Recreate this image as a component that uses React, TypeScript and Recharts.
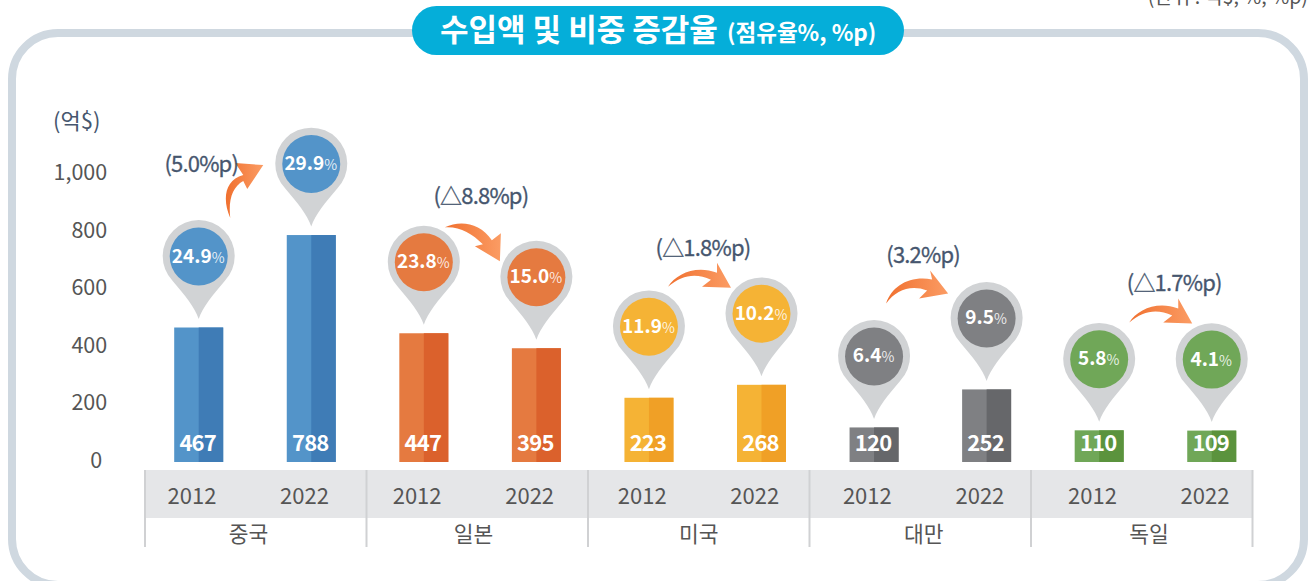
import { Bar, BarChart, LabelList, XAxis, YAxis } from 'recharts';

const countries = ['중국', '일본', '미국', '대만', '독일'];
const years = ['2012', '2022'];
const imports = [467, 788, 447, 395, 223, 268, 120, 252, 110, 109];
const shares = ['24.9', '29.9', '23.8', '15.0', '11.9', '10.2', '6.4', '9.5', '5.8', '4.1'];
const changes = ['(5.0%p)', '(△8.8%p)', '(△1.8%p)', '(3.2%p)', '(△1.7%p)'];
const yTicks = [0, 200, 400, 600, 800, 1000];

const rows = imports.map((value, i) => ({
    key: `${countries[Math.floor(i / 2)]}-${years[i % 2]}`,
    value,
    share: shares[i],
}));

const FONT = '"Noto Sans CJK KR", "Noto Sans", sans-serif';
const palette = [
    ['#5394c9', '#3f7cb6'],
    ['#e57a40', '#db612c'],
    ['#f5b335', '#f0a026'],
    ['#7f8083', '#66676a'],
    ['#70a758', '#5b933d'],
];

// where each "(x%p)" note and arrow sit, relative to the 2022 bar's top centre
const noteOffsets = [
    { text: [-110, -63], arrow: [-81, -17], kind: 'up' },
    { text: [-55.5, -144], arrow: [-91.5, -121], kind: 'down' },
    { text: [-58.5, -129], arrow: [-93.5, -98], kind: 'flat' },
    { text: [-63.5, -126], arrow: [-100.5, -86], kind: 'rise' },
    { text: [-37.5, -140], arrow: [-82.5, -108], kind: 'flat' },
];

const arrowPaths: Record<string, string> = {
    up: 'M0 0C-8 -18 -6 -38 13 -43L5 -55L33 -53L17 -29L13 -37C2 -31 -2 -18 0 0Z',
    down: 'M0 0C15 -7 35 -5 47 13L56 6L55 34L30 19L38 17C27 6 15 -1 0 0Z',
    flat: 'M0 0C8 -13 28 -22 49 -14L49 -24L63 1L34 0L43 -7C28 -14 14 -12 0 0Z',
    rise: 'M0 0C6 -18 24 -28 46 -24L44 -33L62 -10L33 -5L41 -13C25 -19 10 -14 0 0Z',
};

const TwoToneBar = (props: any) => {
    const { x, y, width, height, index } = props;
    const [light, dark] = palette[Math.floor(index / 2)];
    return (
        <g>
            <rect x={x} y={y} width={width} height={height} fill={light} />
            <rect x={x + width / 2} y={y} width={width / 2} height={height} fill={dark} />
        </g>
    );
};

const ValueLabel = (props: any) => {
    const { x, y, width, height, value } = props;
    return (
        <text
            x={x + width / 2 - 1}
            y={y + height - 11}
            textAnchor="middle"
            fontFamily={FONT}
            fontSize={22}
            fontWeight={700}
            letterSpacing={-0.8}
            fill="#fff"
        >
            {value}
        </text>
    );
};

const Pin = (props: any) => {
    const { x, y, width, value, index } = props;
    const cx = x + width / 2;
    const tip = y - 8.5;
    return (
        <g>
            <path
                transform={`translate(${cx}, ${tip})`}
                d="M0 0C-4 -12 -14 -24 -26 -38A36 36 0 1 1 26 -38C14 -24 4 -12 0 0Z"
                fill="#d1d3d5"
            />
            <circle cx={cx} cy={tip - 62.5} r={29} fill={palette[Math.floor(index / 2)][0]} />
            <text x={cx - 0.5} y={tip - 56.5} textAnchor="middle" fontFamily={FONT} fill="#fff">
                <tspan fontSize={19} fontWeight={700}>{value}</tspan>
                <tspan fontSize={14} fillOpacity={0.85}>%</tspan>
            </text>
        </g>
    );
};

const ChangeNote = (props: any) => {
    const { x, y, width, index } = props;
    if (index % 2 === 0) return null;
    const group = Math.floor(index / 2);
    const { text, arrow, kind } = noteOffsets[group];
    const cx = x + width / 2;
    const gradId = `arrow-grad-${group}`;
    return (
        <g>
            <defs>
                <linearGradient id={gradId} x1="0" y1="0" x2="1" y2="0">
                    <stop offset="0" stopColor="#f0702f" />
                    <stop offset="1" stopColor="#fb9c64" />
                </linearGradient>
            </defs>
            <path
                transform={`translate(${cx + arrow[0]}, ${y + arrow[1]})`}
                d={arrowPaths[kind]}
                fill={`url(#${gradId})`}
            />
            <text
                x={cx + text[0]}
                y={y + text[1]}
                textAnchor="middle"
                fontFamily={FONT}
                fontSize={22}
                letterSpacing={-0.8}
                stroke="#46566e"
                strokeWidth={0.3}
                fill="#46566e"
            >
                {changes[group]}
            </text>
        </g>
    );
};

const YearTick = (props: any) => {
    const { x, y, index } = props;
    const isFirst = index % 2 === 0;
    return (
        <g fontFamily={FONT} fill="#555">
            <text x={x - 6.5} y={y + 34} textAnchor="middle" fontSize={22}>
                {years[index % 2]}
            </text>
            {isFirst && (
                <text x={x + 50} y={y + 72} textAnchor="middle" fontSize={21.5}>
                    {countries[index / 2]}
                </text>
            )}
        </g>
    );
};

const ValueTick = (props: any) => {
    const { x, y, payload } = props;
    return (
        <text
            x={payload.value === 0 ? x - 4 : x + 1}
            y={y + 6}
            textAnchor="end"
            fontFamily={FONT}
            fontSize={21.5}
            fill="#555"
        >
            {payload.value.toLocaleString('en-US')}
        </text>
    );
};

const Backdrop = () => (
    <svg width={1311} height={581} style={{ position: 'absolute', left: 0, top: 0 }}>
        <rect x={12} y={33} width={1292} height={552} rx={46} fill="#fff" stroke="#cfd8e0" strokeWidth={8} />
        <rect x={412} y={6} width={492} height={49} rx={24.5} fill="#05aed9" />
        <text x={440} y={41} fontFamily={FONT} fontWeight={700} fill="#fff">
            <tspan fontSize={31}>수입액 및 비중 증감율</tspan>
            <tspan x={727} fontSize={22.5}>(점유율%, %p)</tspan>
        </text>
        <text x={1308} y={4} textAnchor="end" fontFamily={FONT} fontSize={19.6} fill="#555">
            (단위 : 억$, %, %p)
        </text>
        <text x={53} y={129} fontFamily={FONT} fontSize={22} fill="#46566e">
            (억$)
        </text>
        <rect x={145} y={470} width={1108} height={48} fill="#e5e6e8" />
        {[145, 366.5, 588, 809.5, 1031, 1252.5].map((sx) => (
            <rect key={sx} x={sx - 1} y={470} width={2} height={77} fill="#d0d1d3" />
        ))}
    </svg>
);

export default function App() {
    return (
        <div style={{ position: 'absolute', left: 0, top: 0, width: 1311, height: 581, overflow: 'hidden', background: '#fff' }}>
            <Backdrop />
            <div style={{ position: 'absolute', left: 0, top: 0 }}>
                <BarChart
                    width={1311}
                    height={581}
                    data={rows}
                    margin={{ top: 174, right: 43.2, bottom: 89, left: 82.2 }}
                >
                    <XAxis dataKey="key" height={30} interval={0} axisLine={false} tickLine={false} tick={<YearTick />} />
                    <YAxis
                        width={60}
                        domain={[0, 1000]}
                        ticks={yTicks}
                        axisLine={false}
                        tickLine={false}
                        tickSize={0}
                        tickMargin={36}
                        tick={<ValueTick />}
                    />
                    <Bar dataKey="value" barSize={49} isAnimationActive={false} shape={<TwoToneBar />}>
                        <LabelList dataKey="value" content={<ValueLabel />} />
                        <LabelList dataKey="share" content={<Pin />} />
                        <LabelList dataKey="share" content={<ChangeNote />} />
                    </Bar>
                </BarChart>
            </div>
        </div>
    );
}
